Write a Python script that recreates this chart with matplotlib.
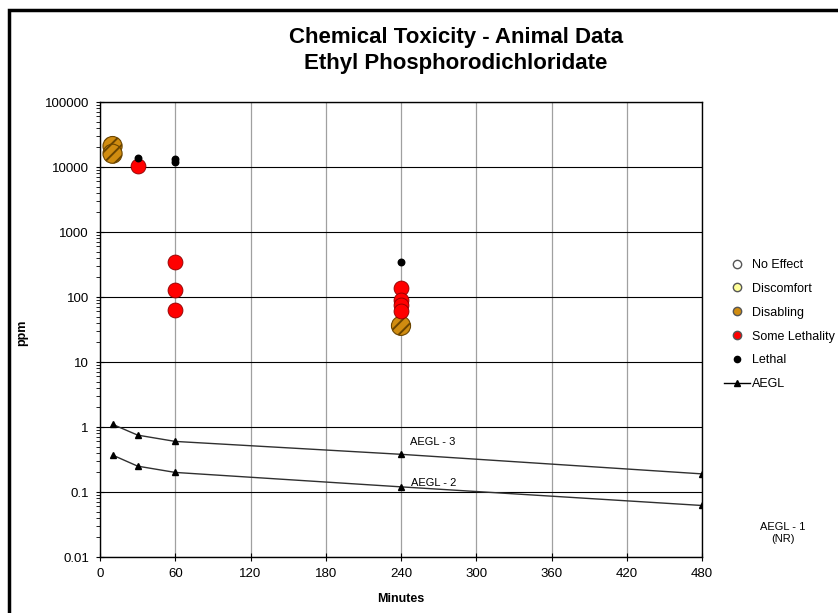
import matplotlib
matplotlib.use("Agg")
import matplotlib.pyplot as plt
from matplotlib.lines import Line2D
from matplotlib.patches import Rectangle
from matplotlib.ticker import LogLocator, FixedLocator, NullFormatter

plt.rcParams['font.family'] = ['Liberation Sans', 'DejaVu Sans']
plt.rcParams['hatch.linewidth'] = 1.4

# exposure data (minutes, ppm)
disabling_t = [10, 10, 240]
disabling_ppm = [21000, 16000, 36]
some_leth_t = [30, 60, 60, 60, 240, 240, 240, 240]
some_leth_ppm = [10500, 340, 130, 64, 140, 90, 75, 60]
lethal_t = [30, 60, 60, 240]
lethal_ppm = [14000, 13500, 12000, 350]

# guideline levels
aegl_t = [10, 30, 60, 240, 480]
aegl3 = [1.1, 0.75, 0.6, 0.38, 0.19]
aegl2 = [0.37, 0.25, 0.2, 0.12, 0.062]

x_ticks = [0, 60, 120, 180, 240, 300, 360, 420, 480]
y_ticks = [0.01, 0.1, 1, 10, 100, 1000, 10000, 100000]
y_labels = ['0.01', '0.1', '1', '10', '100', '1000', '10000', '100000']

W, H = 838, 613
fig = plt.figure(figsize=(W / 100, H / 100), dpi=100)
ax = fig.add_axes([100 / W, 1 - 557 / H, 602 / W, 455 / H])

# outer frame
fig.patches.append(Rectangle((9 / W, -0.1), 2, 1 - 10.5 / H + 0.1,
                             transform=fig.transFigure, fill=False,
                             edgecolor='black', linewidth=2.5))

ax.set_yscale('log')
ax.set_xlim(0, 480)
ax.set_ylim(0.01, 100000)

ax.xaxis.set_major_locator(FixedLocator(x_ticks))
ax.set_yticks(y_ticks)
ax.set_yticklabels(y_labels)
ax.yaxis.set_minor_locator(LogLocator(base=10, subs=range(2, 10), numticks=20))
ax.yaxis.set_minor_formatter(NullFormatter())
ax.tick_params(axis='both', which='major', direction='inout', length=6,
               labelsize=9.5, pad=5)
ax.tick_params(axis='y', which='minor', direction='out', length=3)

ax.grid(True, axis='x', color='#a0a0a0', linewidth=0.9)
ax.grid(True, axis='y', which='major', color='black', linewidth=0.8)
ax.set_axisbelow(True)
for s in ax.spines.values():
    s.set_color('black')
    s.set_linewidth(1)

# guideline lines
ax.plot(aegl_t, aegl3, color='#303030', linewidth=1, marker='^',
        markersize=5, markerfacecolor='black', markeredgecolor='black')
ax.plot(aegl_t, aegl2, color='#303030', linewidth=1, marker='^',
        markersize=5, markerfacecolor='black', markeredgecolor='black')

# animal data points
ax.scatter(disabling_t, disabling_ppm, s=190, facecolor='#D08C10',
           edgecolor='#6b4500', hatch='///', linewidths=0.8, zorder=3)
ax.scatter(some_leth_t, some_leth_ppm, s=115, facecolor='#FF0000',
           edgecolor='#8a0000', linewidths=0.6, zorder=4)
ax.scatter(lethal_t, lethal_ppm, s=22, facecolor='black',
           edgecolor='black', zorder=5)

ax.text(265, 0.5, 'AEGL - 3', fontsize=8, ha='center', va='bottom')
ax.text(266, 0.115, 'AEGL - 2', fontsize=8, ha='center', va='bottom')
fig.text(783 / W, 1 - 533 / H, 'AEGL - 1\n(NR)', fontsize=8,
         ha='center', va='center', linespacing=1.15)

ax.set_xlabel('Minutes', fontsize=9, fontweight='bold', labelpad=9)
fig.text(22 / W, 1 - 333 / H, 'ppm', fontsize=9, fontweight='bold',
         rotation=90, ha='center', va='center')

fig.text(456 / W, 1 - 38 / H, 'Chemical Toxicity - Animal Data',
         fontsize=16, fontweight='bold', ha='center', va='center')
fig.text(456 / W, 1 - 63 / H, 'Ethyl Phosphorodichloridate',
         fontsize=16, fontweight='bold', ha='center', va='center')

handles = [
    Line2D([], [], linestyle='none', marker='o', markersize=6,
           markerfacecolor='white', markeredgecolor='#555555'),
    Line2D([], [], linestyle='none', marker='o', markersize=6,
           markerfacecolor='#FFFF99', markeredgecolor='#555555'),
    Line2D([], [], linestyle='none', marker='o', markersize=6,
           markerfacecolor='#D08C10', markeredgecolor='#555555'),
    Line2D([], [], linestyle='none', marker='o', markersize=6,
           markerfacecolor='#FF0000', markeredgecolor='#555555'),
    Line2D([], [], linestyle='none', marker='o', markersize=4.5,
           markerfacecolor='black', markeredgecolor='black'),
    Line2D([], [], color='black', linewidth=1, marker='^', markersize=4,
           markerfacecolor='black'),
]
labels = ['No Effect', 'Discomfort', 'Disabling', 'Some Lethality',
          'Lethal', 'AEGL']
fig.legend(handles, labels, loc='upper left',
           bbox_to_anchor=(719 / W, 1 - 254 / H), frameon=False,
           fontsize=9, handlelength=2.1, handletextpad=0.15,
           labelspacing=0.95, borderaxespad=0)

fig.savefig('out.png', dpi=100)
